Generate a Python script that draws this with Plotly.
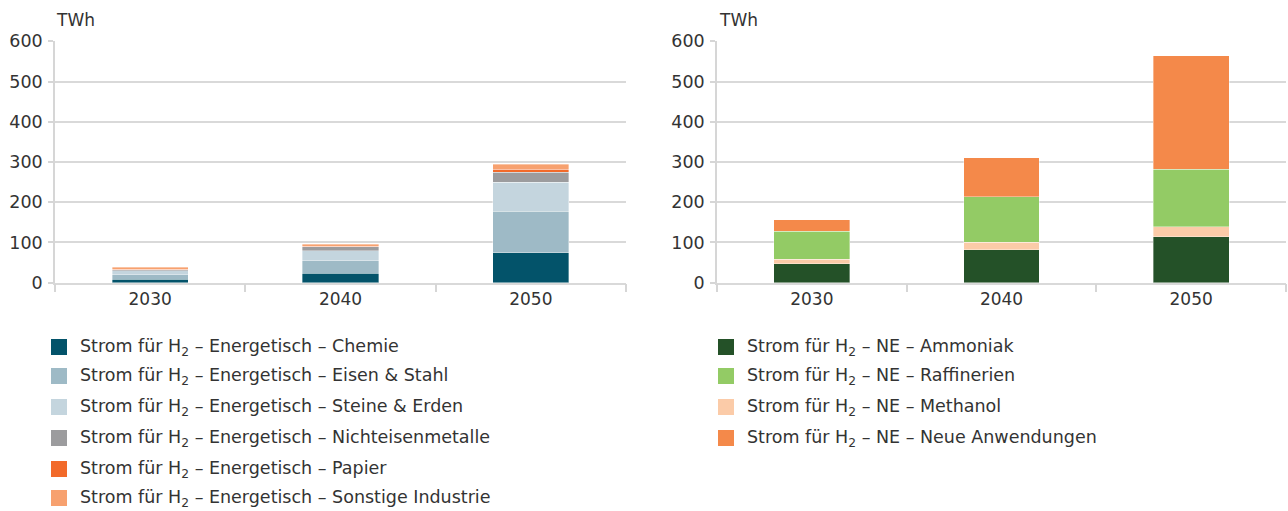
import plotly.graph_objects as go

years = ["2030", "2040", "2050"]

# Left chart: Strom für H2 – Energetisch (TWh)
chemie = [9, 23, 74]
eisen_stahl = [11, 32, 103]
steine_erden = [10, 24, 73]
nichteisen = [2, 10, 25]
papier = [1, 1, 7]
sonstige = [5, 5, 13]

# Right chart: Strom für H2 – NE (TWh)
ammoniak = [47, 82, 114]
raffinerien = [70, 114, 143]
methanol = [11, 18, 25]
neue_anw = [28, 96, 282]

y_ticks = [0, 100, 200, 300, 400, 500, 600]

FONT = "DejaVu Sans"
TXT = "#333333"
W, H = 1288, 511

# (label, values, colour)  -- legend order
left_series = [
    ("Chemie", chemie, "#03536a"),
    ("Eisen & Stahl", eisen_stahl, "#9ebac6"),
    ("Steine & Erden", steine_erden, "#c4d5de"),
    ("Nichteisenmetalle", nichteisen, "#9c9c9e"),
    ("Papier", papier, "#f26a2a"),
    ("Sonstige Industrie", sonstige, "#f7a16f"),
]
right_series = [
    ("Ammoniak", ammoniak, "#245128"),
    ("Raffinerien", raffinerien, "#93cb65"),
    ("Methanol", methanol, "#fbcba8"),
    ("Neue Anwendungen", neue_anw, "#f4894a"),
]
# stacking order (bottom -> top) for the right chart
right_stack = [0, 2, 1, 3]

fig = go.Figure()
for name, vals, col in left_series:
    fig.add_trace(go.Bar(
        x=years, y=vals, name="Strom für H<sub>2</sub> – Energetisch – " + name,
        marker=dict(color=col, line=dict(color="rgba(255,255,255,0.6)", width=0.6)),
        xaxis="x", yaxis="y", width=0.4, showlegend=False,
    ))
for idx in right_stack:
    name, vals, col = right_series[idx]
    fig.add_trace(go.Bar(
        x=years, y=vals, name="Strom für H<sub>2</sub> – NE – " + name,
        marker=dict(color=col, line=dict(color="rgba(255,255,255,0.6)", width=0.6)),
        xaxis="x2", yaxis="y2", width=0.4, showlegend=False,
    ))

ydom = [1 - 282.7 / H, 1 - 41.3 / H]
axis_common_y = dict(
    range=[0, 600], tickvals=y_ticks, showgrid=True, gridcolor="#d9d9d9", gridwidth=1.5,
    zeroline=False, showline=True, linecolor="#d6d6d6", linewidth=1.5,
    ticks="outside", ticklen=5, tickcolor="#d6d6d6", tickwidth=1.5, ticklabelstandoff=2,
    tickfont=dict(family=FONT, size=17.5, color=TXT), domain=ydom, automargin=False,
)
axis_common_x = dict(
    type="category", tickson="boundaries", ticks="outside", ticklen=8, tickcolor="#d6d6d6",
    tickwidth=1.5, automargin=False,
    showline=True, linecolor="#d9d9d9", linewidth=1.5, showgrid=False,
    tickfont=dict(family=FONT, size=17, color=TXT),
)

fig.update_layout(
    barmode="stack",
    width=W, height=H,
    margin=dict(l=0, r=0, t=0, b=0),
    paper_bgcolor="white", plot_bgcolor="white",
    font=dict(family=FONT, color=TXT),
    xaxis=dict(domain=[55 / W, 626 / W], anchor="y", **axis_common_x),
    yaxis=dict(anchor="x", **axis_common_y),
    xaxis2=dict(domain=[717 / W, 1286 / W], anchor="y2", **axis_common_x),
    yaxis2=dict(anchor="x2", **axis_common_y),
    showlegend=False,
)

for xpos in [54, 717]:
    fig.add_annotation(
        text="TWh", x=xpos / W, y=1 - 20 / H, xref="paper", yref="paper",
        xanchor="left", yanchor="middle", showarrow=False,
        font=dict(family=FONT, size=17, color=TXT),
    )

# legends (swatch + label)
leg_rows = [347, 376, 407, 438, 469, 498]


def add_legend(series, prefix, sx, tx):
    for (name, vals, col), py in zip(series, leg_rows):
        fig.add_shape(
            type="rect", xref="paper", yref="paper",
            x0=sx / W, x1=(sx + 16) / W, y0=1 - (py + 8) / H, y1=1 - (py - 8) / H,
            fillcolor=col, line=dict(width=0),
        )
        fig.add_annotation(
            text="Strom für H<sub>2</sub> – " + prefix + name,
            x=tx / W, y=1 - py / H, xref="paper", yref="paper",
            xanchor="left", yanchor="middle", showarrow=False,
            font=dict(family=FONT, size=17.5, color=TXT),
        )


add_legend(left_series, "Energetisch – ", 51, 78)
add_legend(right_series, "NE – ", 718, 745)

fig.write_html(
    "out.html",
    config={"displayModeBar": False},
    post_script="document.body.style.margin='0';",
)
